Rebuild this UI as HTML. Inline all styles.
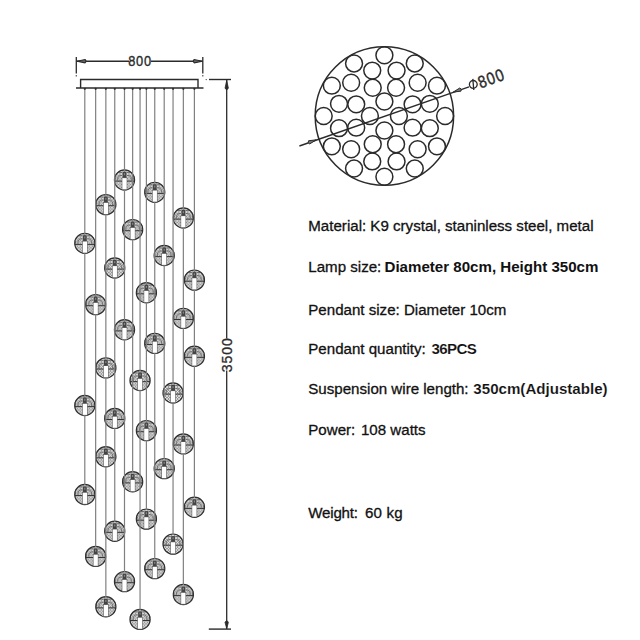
<!DOCTYPE html>
<html><head><meta charset="utf-8"><style>
html,body{margin:0;padding:0;background:#fff;}
#root{position:relative;width:640px;height:640px;overflow:hidden;background:#fff;}
.t{position:absolute;left:308.3px;font-family:"Liberation Sans",sans-serif;font-size:15.1px;line-height:17px;color:#111;white-space:nowrap;-webkit-text-stroke:0.3px #111;}
.t b{font-weight:700;-webkit-text-stroke:0;} .t b.m{-webkit-text-stroke:0.12px #fff;}
</style></head><body><div id="root">
<svg width="640" height="640" viewBox="0 0 640 640" style="position:absolute;left:0;top:0"><defs>
<pattern id="tex" width="3" height="3" patternUnits="userSpaceOnUse">
<rect width="3" height="3" fill="#f2f2f2"/><circle cx="1.5" cy="1.5" r="1" fill="none" stroke="#3a3a3a" stroke-width="0.55"/>
</pattern>
<g id="bb">
<circle cx="0" cy="0" r="10.2" fill="url(#tex)"/>
<path d="M-9 0.5 A5.5 5.5 0 0 1 -2.5 -7.5 M-6.5 0.5 A3.5 3.5 0 0 1 -2.5 -4.5 M9 0.5 A5.5 5.5 0 0 0 2.5 -7.5 M6.5 0.5 A3.5 3.5 0 0 0 2.5 -4.5" fill="none" stroke="#666" stroke-width="0.9"/>
<line x1="-10" y1="1.1" x2="10" y2="1.1" stroke="#333" stroke-width="1"/>
<circle cx="0" cy="0" r="10.1" fill="none" stroke="#2e2e2e" stroke-width="1.15"/>
</g>
<g id="bf">
<rect x="-2.5" y="-2.2" width="5" height="11.9" fill="#fff" stroke="#555" stroke-width="0.6"/>
<rect x="-1.9" y="-8" width="3.8" height="5.8" fill="#444"/>
<rect x="-0.6" y="-6.8" width="1.2" height="2" fill="#888"/>
</g>
</defs><use href="#bb" x="124.5" y="180.00"/><use href="#bb" x="154.75" y="192.30"/><use href="#bb" x="105.85" y="204.60"/><use href="#bb" x="183.35" y="218.00"/><use href="#bb" x="132.65" y="229.60"/><use href="#bb" x="84.8" y="243.30"/><use href="#bb" x="164.2" y="255.50"/><use href="#bb" x="114.75" y="268.00"/><use href="#bb" x="194.4" y="280.10"/><use href="#bb" x="146.4" y="292.70"/><use href="#bb" x="95.65" y="304.60"/><use href="#bb" x="183.35" y="318.40"/><use href="#bb" x="124.5" y="329.80"/><use href="#bb" x="154.75" y="343.40"/><use href="#bb" x="194.4" y="356.25"/><use href="#bb" x="105.85" y="367.90"/><use href="#bb" x="140.05" y="380.50"/><use href="#bb" x="173.05" y="393.00"/><use href="#bb" x="84.8" y="405.50"/><use href="#bb" x="114.75" y="418.40"/><use href="#bb" x="146.4" y="430.60"/><use href="#bb" x="183.35" y="443.90"/><use href="#bb" x="105.85" y="456.70"/><use href="#bb" x="164.2" y="468.60"/><use href="#bb" x="132.65" y="481.80"/><use href="#bb" x="84.8" y="494.45"/><use href="#bb" x="194.4" y="507.30"/><use href="#bb" x="146.4" y="519.10"/><use href="#bb" x="114.75" y="531.25"/><use href="#bb" x="173.05" y="544.10"/><use href="#bb" x="95.65" y="556.40"/><use href="#bb" x="154.75" y="568.60"/><use href="#bb" x="124.5" y="581.60"/><use href="#bb" x="183.35" y="594.50"/><use href="#bb" x="105.85" y="606.75"/><use href="#bb" x="140.05" y="619.40"/><line x1="84.8" y1="88" x2="84.8" y2="485.45" stroke="#808080" stroke-width="1.2"/><circle cx="84.8" cy="88.8" r="1.1" fill="#333"/><line x1="95.65" y1="88" x2="95.65" y2="547.40" stroke="#808080" stroke-width="1.2"/><circle cx="95.65" cy="88.8" r="1.1" fill="#333"/><line x1="105.85" y1="88" x2="105.85" y2="597.75" stroke="#808080" stroke-width="1.2"/><circle cx="105.85" cy="88.8" r="1.1" fill="#333"/><line x1="114.75" y1="88" x2="114.75" y2="522.25" stroke="#808080" stroke-width="1.2"/><circle cx="114.75" cy="88.8" r="1.1" fill="#333"/><line x1="124.5" y1="88" x2="124.5" y2="572.60" stroke="#808080" stroke-width="1.2"/><circle cx="124.5" cy="88.8" r="1.1" fill="#333"/><line x1="132.65" y1="88" x2="132.65" y2="472.80" stroke="#808080" stroke-width="1.2"/><circle cx="132.65" cy="88.8" r="1.1" fill="#333"/><line x1="140.05" y1="88" x2="140.05" y2="610.40" stroke="#808080" stroke-width="1.2"/><circle cx="140.05" cy="88.8" r="1.1" fill="#333"/><line x1="146.4" y1="88" x2="146.4" y2="510.10" stroke="#808080" stroke-width="1.2"/><circle cx="146.4" cy="88.8" r="1.1" fill="#333"/><line x1="154.75" y1="88" x2="154.75" y2="559.60" stroke="#808080" stroke-width="1.2"/><circle cx="154.75" cy="88.8" r="1.1" fill="#333"/><line x1="164.2" y1="88" x2="164.2" y2="459.60" stroke="#808080" stroke-width="1.2"/><circle cx="164.2" cy="88.8" r="1.1" fill="#333"/><line x1="173.05" y1="88" x2="173.05" y2="535.10" stroke="#808080" stroke-width="1.2"/><circle cx="173.05" cy="88.8" r="1.1" fill="#333"/><line x1="183.35" y1="88" x2="183.35" y2="585.50" stroke="#808080" stroke-width="1.2"/><circle cx="183.35" cy="88.8" r="1.1" fill="#333"/><line x1="194.4" y1="88" x2="194.4" y2="498.30" stroke="#808080" stroke-width="1.2"/><circle cx="194.4" cy="88.8" r="1.1" fill="#333"/><use href="#bf" x="124.5" y="180.00"/><use href="#bf" x="154.75" y="192.30"/><use href="#bf" x="105.85" y="204.60"/><use href="#bf" x="183.35" y="218.00"/><use href="#bf" x="132.65" y="229.60"/><use href="#bf" x="84.8" y="243.30"/><use href="#bf" x="164.2" y="255.50"/><use href="#bf" x="114.75" y="268.00"/><use href="#bf" x="194.4" y="280.10"/><use href="#bf" x="146.4" y="292.70"/><use href="#bf" x="95.65" y="304.60"/><use href="#bf" x="183.35" y="318.40"/><use href="#bf" x="124.5" y="329.80"/><use href="#bf" x="154.75" y="343.40"/><use href="#bf" x="194.4" y="356.25"/><use href="#bf" x="105.85" y="367.90"/><use href="#bf" x="140.05" y="380.50"/><use href="#bf" x="173.05" y="393.00"/><use href="#bf" x="84.8" y="405.50"/><use href="#bf" x="114.75" y="418.40"/><use href="#bf" x="146.4" y="430.60"/><use href="#bf" x="183.35" y="443.90"/><use href="#bf" x="105.85" y="456.70"/><use href="#bf" x="164.2" y="468.60"/><use href="#bf" x="132.65" y="481.80"/><use href="#bf" x="84.8" y="494.45"/><use href="#bf" x="194.4" y="507.30"/><use href="#bf" x="146.4" y="519.10"/><use href="#bf" x="114.75" y="531.25"/><use href="#bf" x="173.05" y="544.10"/><use href="#bf" x="95.65" y="556.40"/><use href="#bf" x="154.75" y="568.60"/><use href="#bf" x="124.5" y="581.60"/><use href="#bf" x="183.35" y="594.50"/><use href="#bf" x="105.85" y="606.75"/><use href="#bf" x="140.05" y="619.40"/><path d="M80.6 88 V79.5 H198 V88" fill="none" stroke="#2b2b2b" stroke-width="1.4"/><line x1="76" y1="88" x2="203.5" y2="88" stroke="#2b2b2b" stroke-width="1.5"/><line x1="76.3" y1="57" x2="76.3" y2="73.5" stroke="#2b2b2b" stroke-width="1.3"/><line x1="76.3" y1="75" x2="76.3" y2="76.6" stroke="#555" stroke-width="1.2"/><line x1="202.8" y1="57" x2="202.8" y2="73.5" stroke="#2b2b2b" stroke-width="1.3"/><line x1="202.8" y1="75" x2="202.8" y2="76.6" stroke="#555" stroke-width="1.2"/><circle cx="206.2" cy="79.6" r="0.7" fill="#444"/><line x1="76.5" y1="61.2" x2="129" y2="61.2" stroke="#2b2b2b" stroke-width="1.5"/><line x1="151" y1="61.2" x2="202.5" y2="61.2" stroke="#2b2b2b" stroke-width="1.5"/><path d="M77 61.2 L85 59.5 Q87 61.2 85 62.9 Z" fill="#666" stroke="#2b2b2b" stroke-width="1.1"/><path d="M202.3 61.2 L194.3 59.5 Q192.3 61.2 194.3 62.9 Z" fill="#666" stroke="#2b2b2b" stroke-width="1.1"/><text x="0" y="0" transform="translate(140.1 66.3) scale(0.95 1.12)" text-anchor="middle" font-family="Liberation Sans" font-size="13.5" letter-spacing="0.9" fill="#2b2b2b" stroke="#2b2b2b" stroke-width="0.35">800</text><line x1="209" y1="79.5" x2="231" y2="79.5" stroke="#2b2b2b" stroke-width="1.4"/><line x1="208.8" y1="629.1" x2="231" y2="629.1" stroke="#2b2b2b" stroke-width="1.4"/><line x1="226.7" y1="79.5" x2="226.7" y2="338.5" stroke="#2b2b2b" stroke-width="1.3"/><line x1="226.7" y1="370.5" x2="226.7" y2="629" stroke="#2b2b2b" stroke-width="1.3"/><path d="M226.7 80.5 L225 88.3 Q226.7 91.2 228.4 88.3 Z" fill="#2b2b2b" stroke="#2b2b2b" stroke-width="0.8"/><path d="M226.7 628.6 L225 622.3 Q226.7 619.2 228.4 622.3 Z" fill="#2b2b2b" stroke="#2b2b2b" stroke-width="0.8"/><text x="0" y="0" transform="translate(232.2 354.8) rotate(-90) scale(1.0 1.03)" text-anchor="middle" font-family="Liberation Sans" font-size="14" letter-spacing="0.9" fill="#2b2b2b" stroke="#2b2b2b" stroke-width="0.3">3500</text><circle cx="384.4" cy="116.0" r="69.2" fill="none" stroke="#2b2b2b" stroke-width="1.5"/><circle cx="398.90" cy="116.00" r="8.45" fill="none" stroke="#2b2b2b" stroke-width="1.5"/><circle cx="384.40" cy="130.50" r="8.45" fill="none" stroke="#2b2b2b" stroke-width="1.5"/><circle cx="369.90" cy="116.00" r="8.45" fill="none" stroke="#2b2b2b" stroke-width="1.5"/><circle cx="384.40" cy="101.50" r="8.45" fill="none" stroke="#2b2b2b" stroke-width="1.5"/><circle cx="412.58" cy="127.67" r="8.45" fill="none" stroke="#2b2b2b" stroke-width="1.5"/><circle cx="396.07" cy="144.18" r="8.45" fill="none" stroke="#2b2b2b" stroke-width="1.5"/><circle cx="372.73" cy="144.18" r="8.45" fill="none" stroke="#2b2b2b" stroke-width="1.5"/><circle cx="356.22" cy="127.67" r="8.45" fill="none" stroke="#2b2b2b" stroke-width="1.5"/><circle cx="356.22" cy="104.33" r="8.45" fill="none" stroke="#2b2b2b" stroke-width="1.5"/><circle cx="372.73" cy="87.82" r="8.45" fill="none" stroke="#2b2b2b" stroke-width="1.5"/><circle cx="396.07" cy="87.82" r="8.45" fill="none" stroke="#2b2b2b" stroke-width="1.5"/><circle cx="412.58" cy="104.33" r="8.45" fill="none" stroke="#2b2b2b" stroke-width="1.5"/><circle cx="429.80" cy="128.16" r="8.45" fill="none" stroke="#2b2b2b" stroke-width="1.5"/><circle cx="417.63" cy="149.23" r="8.45" fill="none" stroke="#2b2b2b" stroke-width="1.5"/><circle cx="396.56" cy="161.40" r="8.45" fill="none" stroke="#2b2b2b" stroke-width="1.5"/><circle cx="372.24" cy="161.40" r="8.45" fill="none" stroke="#2b2b2b" stroke-width="1.5"/><circle cx="351.17" cy="149.23" r="8.45" fill="none" stroke="#2b2b2b" stroke-width="1.5"/><circle cx="339.00" cy="128.16" r="8.45" fill="none" stroke="#2b2b2b" stroke-width="1.5"/><circle cx="339.00" cy="103.84" r="8.45" fill="none" stroke="#2b2b2b" stroke-width="1.5"/><circle cx="351.17" cy="82.77" r="8.45" fill="none" stroke="#2b2b2b" stroke-width="1.5"/><circle cx="372.24" cy="70.60" r="8.45" fill="none" stroke="#2b2b2b" stroke-width="1.5"/><circle cx="396.56" cy="70.60" r="8.45" fill="none" stroke="#2b2b2b" stroke-width="1.5"/><circle cx="417.63" cy="82.77" r="8.45" fill="none" stroke="#2b2b2b" stroke-width="1.5"/><circle cx="429.80" cy="103.84" r="8.45" fill="none" stroke="#2b2b2b" stroke-width="1.5"/><circle cx="445.10" cy="116.00" r="8.45" fill="none" stroke="#2b2b2b" stroke-width="1.5"/><circle cx="436.97" cy="146.35" r="8.45" fill="none" stroke="#2b2b2b" stroke-width="1.5"/><circle cx="414.75" cy="168.57" r="8.45" fill="none" stroke="#2b2b2b" stroke-width="1.5"/><circle cx="384.40" cy="176.70" r="8.45" fill="none" stroke="#2b2b2b" stroke-width="1.5"/><circle cx="354.05" cy="168.57" r="8.45" fill="none" stroke="#2b2b2b" stroke-width="1.5"/><circle cx="331.83" cy="146.35" r="8.45" fill="none" stroke="#2b2b2b" stroke-width="1.5"/><circle cx="323.70" cy="116.00" r="8.45" fill="none" stroke="#2b2b2b" stroke-width="1.5"/><circle cx="331.83" cy="85.65" r="8.45" fill="none" stroke="#2b2b2b" stroke-width="1.5"/><circle cx="354.05" cy="63.43" r="8.45" fill="none" stroke="#2b2b2b" stroke-width="1.5"/><circle cx="384.40" cy="55.30" r="8.45" fill="none" stroke="#2b2b2b" stroke-width="1.5"/><circle cx="414.75" cy="63.43" r="8.45" fill="none" stroke="#2b2b2b" stroke-width="1.5"/><circle cx="436.97" cy="85.65" r="8.45" fill="none" stroke="#2b2b2b" stroke-width="1.5"/><line x1="299.4" y1="146" x2="469" y2="86.8" stroke="#2b2b2b" stroke-width="1.4"/><g transform="translate(311.5 141.5) rotate(-19.25)"><path d="M5 0 L-2.5 -1.7 Q-4.5 0 -2.5 1.7 Z" fill="#777" stroke="#2b2b2b" stroke-width="0.9"/></g><g transform="translate(458 90.4) rotate(-19.25)"><path d="M-5 0 L2.5 -1.7 Q4.5 0 2.5 1.7 Z" fill="#777" stroke="#2b2b2b" stroke-width="0.9"/></g><g transform="translate(473.3 84.4) rotate(-5)"><circle cx="0" cy="0" r="3.9" fill="none" stroke="#2b2b2b" stroke-width="1.3"/><line x1="0" y1="-5.6" x2="0" y2="5.6" stroke="#2b2b2b" stroke-width="1.3"/></g><text x="0" y="0" transform="translate(480.5 88.4) rotate(-20) scale(1.0 1.17)" font-family="Liberation Sans" font-size="14.5" letter-spacing="1.1" fill="#2b2b2b" stroke="#2b2b2b" stroke-width="0.35">800</text></svg>
<div class="t" style="top:216.7px">Material: K9 crystal, staninless steel, metal</div><div class="t" style="top:258.1px">Lamp size: <b style="margin-left:-1px">Diameter 80cm, Height 350cm</b></div><div class="t" style="top:300.9px">Pendant size: Diameter 10cm</div><div class="t" style="top:340.2px">Pendant quantity: <b class="m" style="margin-left:1.5px;letter-spacing:-0.6px">36PCS</b></div><div class="t" style="top:380.1px">Suspension wire length: <b class="m" style="margin-left:0.6px;letter-spacing:0px">350cm(Adjustable)</b></div><div class="t" style="top:420.6px">Power: <span style="margin-left:1.5px">108 watts</span></div><div class="t" style="top:503.8px"><span style="letter-spacing:-0.2px">Weight:</span> <span style="margin-left:3px;letter-spacing:0.2px">60 kg</span></div>
</div></body></html>
